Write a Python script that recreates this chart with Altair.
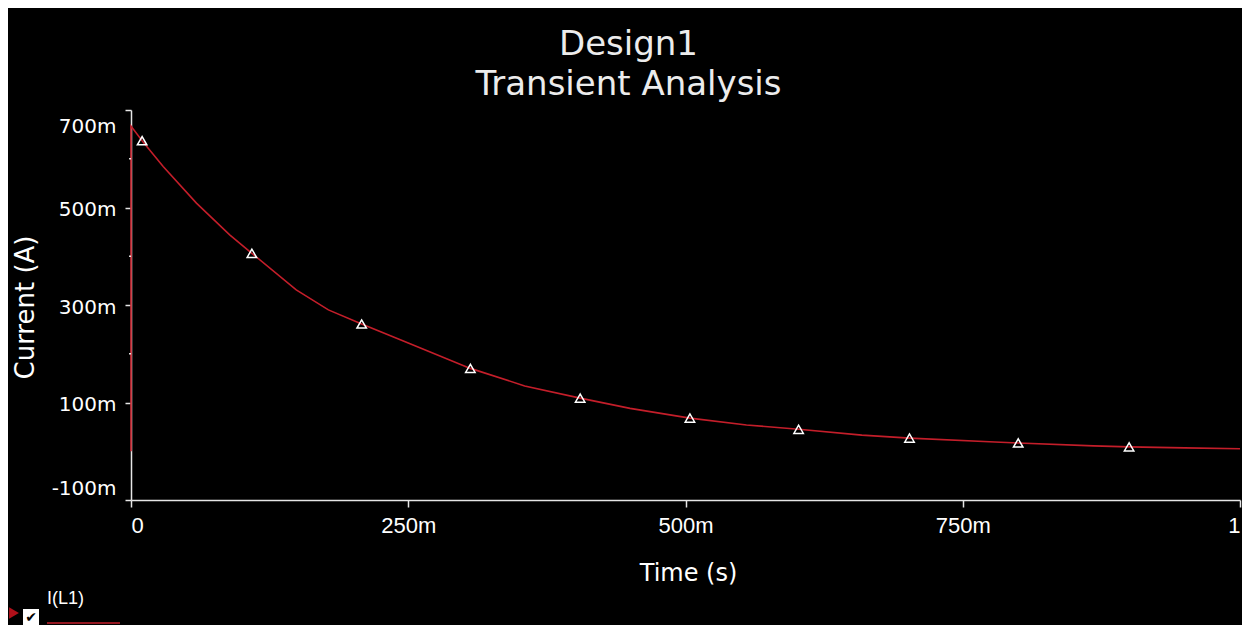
import altair as alt
import pandas as pd

# ---- data ----
time_s = [0, 0, 0.01, 0.029, 0.059, 0.089, 0.109, 0.149, 0.178, 0.208, 0.25, 0.306,
          0.355, 0.405, 0.45, 0.504, 0.555, 0.602, 0.659, 0.702, 0.779, 0.80, 0.868,
          0.90, 0.95, 1.0]
current_a = [0, 0.667, 0.637, 0.584, 0.509, 0.444, 0.406, 0.331, 0.290, 0.261, 0.222,
             0.170, 0.134, 0.109, 0.088, 0.068, 0.054, 0.045, 0.033, 0.027, 0.019,
             0.017, 0.011, 0.009, 0.007, 0.005]

marker_t = [0.01, 0.109, 0.208, 0.306, 0.405, 0.504, 0.602, 0.702, 0.800, 0.900]
marker_i = [0.637, 0.406, 0.261, 0.170, 0.109, 0.068, 0.045, 0.027, 0.017, 0.009]

x_ticks = [0, 0.25, 0.5, 0.75, 1]
y_ticks = [-0.1, 0.1, 0.3, 0.5, 0.7]
y_minor = [0.6, 0.4, 0.2]

series_name = "I(L1)"
title_lines = ["Design1", "Transient Analysis"]

RED = "#c41e2a"
AX = "#e6e6e6"

curve_df = pd.DataFrame({"t": time_s, "i": current_a, "idx": list(range(len(time_s)))})
marker_df = pd.DataFrame({"t": marker_t, "i": marker_i})
minor_df = pd.DataFrame({"t": [0] * len(y_minor), "i": y_minor})
legend_df = pd.DataFrame({"label": [series_name]})

xscale = alt.Scale(domain=[0, 1], nice=False, zero=False)
yscale = alt.Scale(domain=[-0.1, 0.7], nice=False, zero=False)

x_axis = alt.Axis(
    values=x_ticks, grid=False,
    labelExpr="datum.value == 0 ? '0' : datum.value == 1 ? '1' : round(datum.value*1000) + 'm'",
    domainColor=AX, domainWidth=1.5, tickColor=AX, tickWidth=1.5, tickSize=7,
    labelColor="white", labelFont="Liberation Sans", labelFontSize=22, labelFlush=True,
    labelPadding=8,
    title="Time (s)", titleColor="white", titleFont="DejaVu Sans", titleFontSize=24,
    titleFontWeight="normal", titleX=557, titleY=73, titleAlign="center",
    titleBaseline="middle",
)
y_axis = alt.Axis(
    values=y_ticks, grid=False,
    labelExpr="round(datum.value*1000) + 'm'",
    domainColor=AX, domainWidth=1.5, tickColor=AX, tickWidth=1.5, tickSize=6,
    labelColor="white", labelFont="DejaVu Sans", labelFontSize=20, labelPadding=9,
    labelBaseline="middle", labelFlush=False,
    labelOffset={"condition": [{"test": "datum.value > 0.65", "value": 16},
                               {"test": "datum.value < -0.05", "value": -12}],
                 "value": 2},
    title="Current (A)", titleColor="white", titleFont="DejaVu Sans", titleFontSize=26,
    titleFontWeight="normal", titleX=-106, titleY=197, titleAngle=-90,
    titleAlign="center", titleBaseline="middle",
)


def enc(ch):
    return ch.encode(
        x=alt.X("t:Q", scale=xscale, axis=x_axis),
        y=alt.Y("i:Q", scale=yscale, axis=y_axis),
    )


line = alt.Chart(curve_df).mark_line(color=RED, strokeWidth=1.6).encode(
    x=alt.X("t:Q", scale=xscale, axis=x_axis),
    y=alt.Y("i:Q", scale=yscale, axis=y_axis),
    order="idx:Q",
)

minor = enc(alt.Chart(minor_df).mark_point(shape="square", filled=True, color="white",
                                           size=3, opacity=1, xOffset=-1))

markers = enc(alt.Chart(marker_df).mark_point(shape="triangle-up", filled=False, color="white",
                                              size=90, strokeWidth=1.5, opacity=1))

# legend decoration at the bottom-left
leg_flag = alt.Chart(legend_df).mark_point(shape="triangle-right", filled=True, color="#b0101a",
                                           size=130, opacity=1).encode(
    x=alt.value(-117), y=alt.value(503))
leg_box = alt.Chart(legend_df).mark_point(shape="square", filled=True, color="white",
                                          size=256, opacity=1).encode(
    x=alt.value(-100), y=alt.value(507))
leg_check = alt.Chart(legend_df).mark_text(text="✔", color="black", font="DejaVu Sans",
                                           fontSize=14, fontWeight="bold",
                                           align="center", baseline="middle").encode(
    x=alt.value(-100), y=alt.value(508))
leg_text = alt.Chart(legend_df).mark_text(color="white", font="Liberation Sans", fontSize=18,
                                          align="left", baseline="alphabetic").encode(
    text="label:N", x=alt.value(-84), y=alt.value(494))
leg_line = alt.Chart(legend_df).mark_rule(color=RED, strokeWidth=1.5).encode(
    x=alt.value(-84), x2=alt.value(-11), y=alt.value(513))

chart = alt.layer(line, minor, markers, leg_flag, leg_box, leg_check, leg_text, leg_line).properties(
    width=1109, height=390,
    title=alt.TitleParams(text=title_lines, color="#ececec", font="DejaVu Sans", fontSize=34,
                          fontWeight="normal", lineHeight=40, anchor="middle", dx=-57,
                          offset=7),
    autosize=alt.AutoSizeParams(type="none"),
    padding={"left": 123, "top": 102, "right": 2, "bottom": 125},
).configure(background="#000000").configure_view(stroke=None)

chart.save("out.html", embed_options={"renderer": "svg", "actions": False})
